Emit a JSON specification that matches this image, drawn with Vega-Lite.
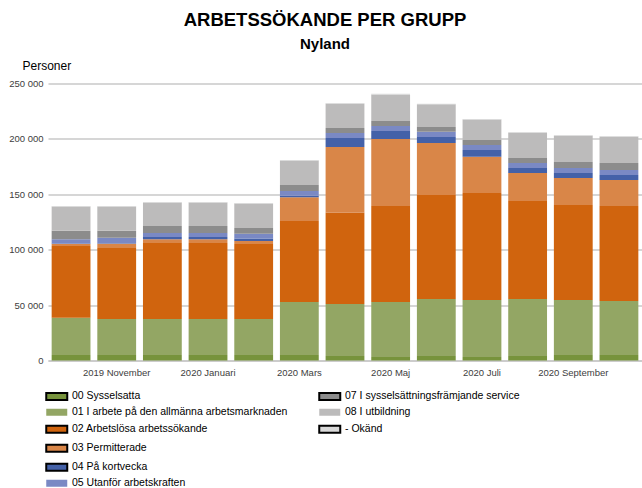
{
  "$schema": "https://vega.github.io/schema/vega-lite/v6.json",
  "autosize": "none",
  "width": 594,
  "height": 277,
  "padding": {"left": 48, "top": 83.5, "right": 0, "bottom": 127.5},
  "background": "white",
  "title": {
    "text": "ARBETSSÖKANDE PER GRUPP",
    "subtitle": "Nyland",
    "anchor": "middle",
    "dx": -20,
    "font": "Liberation Sans",
    "fontSize": 18.5,
    "fontWeight": "bold",
    "color": "black",
    "subtitleFont": "Liberation Sans",
    "subtitleFontSize": 15,
    "subtitleFontWeight": "bold",
    "subtitleColor": "black",
    "subtitlePadding": 7,
    "offset": 8
  },
  "config": {
    "view": {"stroke": null},
    "font": "Liberation Sans"
  },
  "data": {
    "values": [
      {"m": "2019 Oktober", "g": "00 Sysselsatta", "i": 0, "v": 5000},
      {"m": "2019 Oktober", "g": "01 I arbete på den allmänna arbetsmarknaden", "i": 1, "v": 33600},
      {"m": "2019 Oktober", "g": "02 Arbetslösa arbetssökande", "i": 2, "v": 64700},
      {"m": "2019 Oktober", "g": "03 Permitterade", "i": 3, "v": 1800},
      {"m": "2019 Oktober", "g": "04 På kortvecka", "i": 4, "v": 500},
      {"m": "2019 Oktober", "g": "05 Utanför arbetskraften", "i": 5, "v": 3800},
      {"m": "2019 Oktober", "g": "07 I sysselsättningsfrämjande service", "i": 7, "v": 7700},
      {"m": "2019 Oktober", "g": "08 I utbildning", "i": 8, "v": 21800},
      {"m": "2019 Oktober", "g": "- Okänd", "i": 9, "v": 500},

      {"m": "2019 November", "g": "00 Sysselsatta", "i": 0, "v": 5000},
      {"m": "2019 November", "g": "01 I arbete på den allmänna arbetsmarknaden", "i": 1, "v": 32500},
      {"m": "2019 November", "g": "02 Arbetslösa arbetssökande", "i": 2, "v": 64000},
      {"m": "2019 November", "g": "03 Permitterade", "i": 3, "v": 3900},
      {"m": "2019 November", "g": "04 På kortvecka", "i": 4, "v": 400},
      {"m": "2019 November", "g": "05 Utanför arbetskraften", "i": 5, "v": 5000},
      {"m": "2019 November", "g": "07 I sysselsättningsfrämjande service", "i": 7, "v": 6300},
      {"m": "2019 November", "g": "08 I utbildning", "i": 8, "v": 21800},
      {"m": "2019 November", "g": "- Okänd", "i": 9, "v": 500},

      {"m": "2019 December", "g": "00 Sysselsatta", "i": 0, "v": 5000},
      {"m": "2019 December", "g": "01 I arbete på den allmänna arbetsmarknaden", "i": 1, "v": 32500},
      {"m": "2019 December", "g": "02 Arbetslösa arbetssökande", "i": 2, "v": 68500},
      {"m": "2019 December", "g": "03 Permitterade", "i": 3, "v": 3400},
      {"m": "2019 December", "g": "04 På kortvecka", "i": 4, "v": 2100},
      {"m": "2019 December", "g": "05 Utanför arbetskraften", "i": 5, "v": 3600},
      {"m": "2019 December", "g": "07 I sysselsättningsfrämjande service", "i": 7, "v": 6300},
      {"m": "2019 December", "g": "08 I utbildning", "i": 8, "v": 21200},
      {"m": "2019 December", "g": "- Okänd", "i": 9, "v": 500},

      {"m": "2020 Januari", "g": "00 Sysselsatta", "i": 0, "v": 5000},
      {"m": "2020 Januari", "g": "01 I arbete på den allmänna arbetsmarknaden", "i": 1, "v": 32500},
      {"m": "2020 Januari", "g": "02 Arbetslösa arbetssökande", "i": 2, "v": 68500},
      {"m": "2020 Januari", "g": "03 Permitterade", "i": 3, "v": 3400},
      {"m": "2020 Januari", "g": "04 På kortvecka", "i": 4, "v": 2100},
      {"m": "2020 Januari", "g": "05 Utanför arbetskraften", "i": 5, "v": 3600},
      {"m": "2020 Januari", "g": "07 I sysselsättningsfrämjande service", "i": 7, "v": 6300},
      {"m": "2020 Januari", "g": "08 I utbildning", "i": 8, "v": 21200},
      {"m": "2020 Januari", "g": "- Okänd", "i": 9, "v": 500},

      {"m": "2020 Februari", "g": "00 Sysselsatta", "i": 0, "v": 5000},
      {"m": "2020 Februari", "g": "01 I arbete på den allmänna arbetsmarknaden", "i": 1, "v": 32500},
      {"m": "2020 Februari", "g": "02 Arbetslösa arbetssökande", "i": 2, "v": 67600},
      {"m": "2020 Februari", "g": "03 Permitterade", "i": 3, "v": 2800},
      {"m": "2020 Februari", "g": "04 På kortvecka", "i": 4, "v": 2100},
      {"m": "2020 Februari", "g": "05 Utanför arbetskraften", "i": 5, "v": 4500},
      {"m": "2020 Februari", "g": "07 I sysselsättningsfrämjande service", "i": 7, "v": 5100},
      {"m": "2020 Februari", "g": "08 I utbildning", "i": 8, "v": 22000},
      {"m": "2020 Februari", "g": "- Okänd", "i": 9, "v": 500},

      {"m": "2020 Mars", "g": "00 Sysselsatta", "i": 0, "v": 5000},
      {"m": "2020 Mars", "g": "01 I arbete på den allmänna arbetsmarknaden", "i": 1, "v": 47800},
      {"m": "2020 Mars", "g": "02 Arbetslösa arbetssökande", "i": 2, "v": 73100},
      {"m": "2020 Mars", "g": "03 Permitterade", "i": 3, "v": 21400},
      {"m": "2020 Mars", "g": "04 På kortvecka", "i": 4, "v": 1400},
      {"m": "2020 Mars", "g": "05 Utanför arbetskraften", "i": 5, "v": 4300},
      {"m": "2020 Mars", "g": "07 I sysselsättningsfrämjande service", "i": 7, "v": 5400},
      {"m": "2020 Mars", "g": "08 I utbildning", "i": 8, "v": 22100},
      {"m": "2020 Mars", "g": "- Okänd", "i": 9, "v": 500},

      {"m": "2020 April", "g": "00 Sysselsatta", "i": 0, "v": 4100},
      {"m": "2020 April", "g": "01 I arbete på den allmänna arbetsmarknaden", "i": 1, "v": 47000},
      {"m": "2020 April", "g": "02 Arbetslösa arbetssökande", "i": 2, "v": 82300},
      {"m": "2020 April", "g": "03 Permitterade", "i": 3, "v": 59300},
      {"m": "2020 April", "g": "04 På kortvecka", "i": 4, "v": 8100},
      {"m": "2020 April", "g": "05 Utanför arbetskraften", "i": 5, "v": 4500},
      {"m": "2020 April", "g": "07 I sysselsättningsfrämjande service", "i": 7, "v": 4500},
      {"m": "2020 April", "g": "08 I utbildning", "i": 8, "v": 22000},
      {"m": "2020 April", "g": "- Okänd", "i": 9, "v": 600},

      {"m": "2020 Maj", "g": "00 Sysselsatta", "i": 0, "v": 3200},
      {"m": "2020 Maj", "g": "01 I arbete på den allmänna arbetsmarknaden", "i": 1, "v": 49600},
      {"m": "2020 Maj", "g": "02 Arbetslösa arbetssökande", "i": 2, "v": 86600},
      {"m": "2020 Maj", "g": "03 Permitterade", "i": 3, "v": 60500},
      {"m": "2020 Maj", "g": "04 På kortvecka", "i": 4, "v": 7200},
      {"m": "2020 Maj", "g": "05 Utanför arbetskraften", "i": 5, "v": 4500},
      {"m": "2020 Maj", "g": "07 I sysselsättningsfrämjande service", "i": 7, "v": 4500},
      {"m": "2020 Maj", "g": "08 I utbildning", "i": 8, "v": 24000},
      {"m": "2020 Maj", "g": "- Okänd", "i": 9, "v": 700},

      {"m": "2020 Juni", "g": "00 Sysselsatta", "i": 0, "v": 4100},
      {"m": "2020 Juni", "g": "01 I arbete på den allmänna arbetsmarknaden", "i": 1, "v": 51400},
      {"m": "2020 Juni", "g": "02 Arbetslösa arbetssökande", "i": 2, "v": 93900},
      {"m": "2020 Juni", "g": "03 Permitterade", "i": 3, "v": 46900},
      {"m": "2020 Juni", "g": "04 På kortvecka", "i": 4, "v": 5400},
      {"m": "2020 Juni", "g": "05 Utanför arbetskraften", "i": 5, "v": 4800},
      {"m": "2020 Juni", "g": "07 I sysselsättningsfrämjande service", "i": 7, "v": 4200},
      {"m": "2020 Juni", "g": "08 I utbildning", "i": 8, "v": 20500},
      {"m": "2020 Juni", "g": "- Okänd", "i": 9, "v": 600},

      {"m": "2020 Juli", "g": "00 Sysselsatta", "i": 0, "v": 3200},
      {"m": "2020 Juli", "g": "01 I arbete på den allmänna arbetsmarknaden", "i": 1, "v": 51400},
      {"m": "2020 Juli", "g": "02 Arbetslösa arbetssökande", "i": 2, "v": 96600},
      {"m": "2020 Juli", "g": "03 Permitterade", "i": 3, "v": 32600},
      {"m": "2020 Juli", "g": "04 På kortvecka", "i": 4, "v": 6200},
      {"m": "2020 Juli", "g": "05 Utanför arbetskraften", "i": 5, "v": 4500},
      {"m": "2020 Juli", "g": "07 I sysselsättningsfrämjande service", "i": 7, "v": 4500},
      {"m": "2020 Juli", "g": "08 I utbildning", "i": 8, "v": 18400},
      {"m": "2020 Juli", "g": "- Okänd", "i": 9, "v": 600},

      {"m": "2020 Augusti", "g": "00 Sysselsatta", "i": 0, "v": 4100},
      {"m": "2020 Augusti", "g": "01 I arbete på den allmänna arbetsmarknaden", "i": 1, "v": 51400},
      {"m": "2020 Augusti", "g": "02 Arbetslösa arbetssökande", "i": 2, "v": 88500},
      {"m": "2020 Augusti", "g": "03 Permitterade", "i": 3, "v": 25200},
      {"m": "2020 Augusti", "g": "04 På kortvecka", "i": 4, "v": 4500},
      {"m": "2020 Augusti", "g": "05 Utanför arbetskraften", "i": 5, "v": 4500},
      {"m": "2020 Augusti", "g": "07 I sysselsättningsfrämjande service", "i": 7, "v": 4600},
      {"m": "2020 Augusti", "g": "08 I utbildning", "i": 8, "v": 22800},
      {"m": "2020 Augusti", "g": "- Okänd", "i": 9, "v": 600},

      {"m": "2020 September", "g": "00 Sysselsatta", "i": 0, "v": 5000},
      {"m": "2020 September", "g": "01 I arbete på den allmänna arbetsmarknaden", "i": 1, "v": 49600},
      {"m": "2020 September", "g": "02 Arbetslösa arbetssökande", "i": 2, "v": 85700},
      {"m": "2020 September", "g": "03 Permitterade", "i": 3, "v": 24400},
      {"m": "2020 September", "g": "04 På kortvecka", "i": 4, "v": 4500},
      {"m": "2020 September", "g": "05 Utanför arbetskraften", "i": 5, "v": 4500},
      {"m": "2020 September", "g": "07 I sysselsättningsfrämjande service", "i": 7, "v": 5500},
      {"m": "2020 September", "g": "08 I utbildning", "i": 8, "v": 23700},
      {"m": "2020 September", "g": "- Okänd", "i": 9, "v": 600},

      {"m": "2020 Oktober", "g": "00 Sysselsatta", "i": 0, "v": 5000},
      {"m": "2020 Oktober", "g": "01 I arbete på den allmänna arbetsmarknaden", "i": 1, "v": 48700},
      {"m": "2020 Oktober", "g": "02 Arbetslösa arbetssökande", "i": 2, "v": 85700},
      {"m": "2020 Oktober", "g": "03 Permitterade", "i": 3, "v": 23500},
      {"m": "2020 Oktober", "g": "04 På kortvecka", "i": 4, "v": 4500},
      {"m": "2020 Oktober", "g": "05 Utanför arbetskraften", "i": 5, "v": 4500},
      {"m": "2020 Oktober", "g": "07 I sysselsättningsfrämjande service", "i": 7, "v": 6300},
      {"m": "2020 Oktober", "g": "08 I utbildning", "i": 8, "v": 23800},
      {"m": "2020 Oktober", "g": "- Okänd", "i": 9, "v": 600}
    ]
  },
  "mark": {"type": "bar"},
  "encoding": {
    "x": {
      "field": "m",
      "type": "nominal",
      "sort": null,
      "scale": {"paddingInner": 0.15, "paddingOuter": 0.08},
      "axis": {
        "title": null,
        "labelAngle": 0,
        "labelFont": "Liberation Sans",
        "labelFontSize": 9.5,
        "labelColor": "#404040",
        "labelPadding": 7,
        "labelOverlap": false,
        "ticks": false,
        "domain": true,
        "domainColor": "#c8c8c8",
        "domainWidth": 1.5,
        "labelExpr": "indexof(['2019 November','2020 Januari','2020 Mars','2020 Maj','2020 Juli','2020 September'], datum.value) >= 0 ? datum.value : ''"
      }
    },
    "y": {
      "field": "v",
      "type": "quantitative",
      "aggregate": "sum",
      "stack": "zero",
      "scale": {"domain": [0, 250000], "nice": false},
      "axis": {
        "title": "Personer",
        "titleAngle": 0,
        "titleAlign": "left",
        "titleBaseline": "alphabetic",
        "titleX": -26,
        "titleY": -14,
        "titleFont": "Liberation Sans",
        "titleFontSize": 12,
        "titleFontWeight": "normal",
        "titleColor": "black",
        "values": [0, 50000, 100000, 150000, 200000, 250000],
        "labelExpr": "replace(format(datum.value, ','), ',', ' ')",
        "labelFont": "Liberation Sans",
        "labelFontSize": 9.5,
        "labelColor": "#404040",
        "labelPadding": 5,
        "ticks": false,
        "domain": false,
        "gridColor": "#c8c8c8",
        "gridWidth": 1.5
      }
    },
    "order": {"field": "i", "type": "quantitative", "sort": "ascending"},
    "color": {
      "field": "g",
      "type": "nominal",
      "scale": {
        "domain": [
          "00 Sysselsatta",
          "01 I arbete på den allmänna arbetsmarknaden",
          "02 Arbetslösa arbetssökande",
          "03 Permitterade",
          "04 På kortvecka",
          "05 Utanför arbetskraften",
          "07 I sysselsättningsfrämjande service",
          "08 I utbildning",
          "- Okänd",
          " ",
          "  ",
          "   "
        ],
        "range": [
          "#77933C",
          "#93A664",
          "#D0640E",
          "#D98648",
          "#4461A8",
          "#7A89C4",
          "#8C8C8C",
          "#BCBBBB",
          "#D9D9D9",
          "transparent",
          "transparent",
          "transparent"
        ]
      },
      "legend": {
        "title": null,
        "orient": "none",
        "legendX": 3.5,
        "legendY": 307.5,
        "columns": 2,
        "direction": "vertical",
        "columnPadding": 27,
        "rowPadding": 3,
        "symbolType": "M-2.1,-0.7H2.1V0.7H-2.1Z",
        "symbolSize": 100,
        "symbolOpacity": 1,
        "labelFont": "Liberation Sans",
        "labelFontSize": 10.5,
        "labelColor": "black",
        "labelOffset": 10,
        "labelLimit": 400,
        "encode": {
          "symbols": {
            "update": {
              "stroke": {"value": "black"},
              "strokeWidth": {"signal": "indexof(['00 Sysselsatta','02 Arbetslösa arbetssökande','03 Permitterade','04 På kortvecka','07 I sysselsättningsfrämjande service','- Okänd'], datum.value) >= 0 ? 2 : 0"}
            }
          }
        }
      }
    }
  }
}
